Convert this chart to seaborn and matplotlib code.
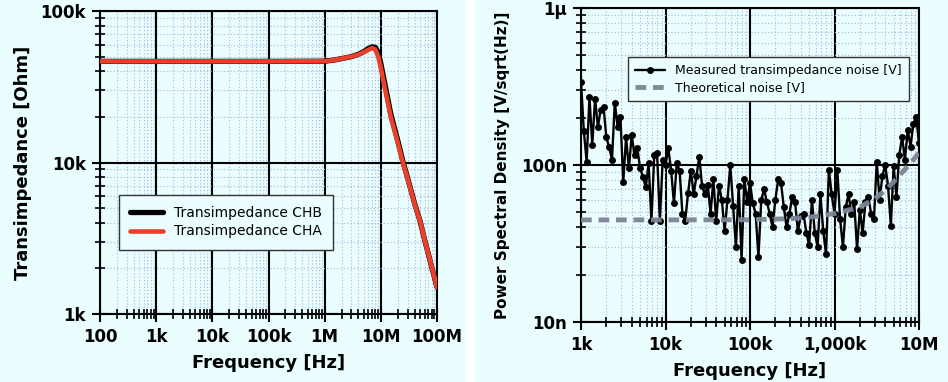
import numpy as np
import pandas as pd
import matplotlib
matplotlib.use("Agg")
import matplotlib.pyplot as plt
import seaborn as sns
from matplotlib.patches import Rectangle
from matplotlib.ticker import FixedLocator, LogLocator, NullFormatter, FixedFormatter

# ---------------- data: left panel (transimpedance, Ohm) ----------------
tz_freq = [1e2, 1e3, 1e4, 1e5, 1e6, 1.5e6, 2e6, 3e6, 4e6, 5e6, 6e6, 7e6, 8e6, 9e6,
           1e7, 1.2e7, 1.5e7, 2e7, 2.5e7, 3e7, 4e7, 5e7, 6e7, 7e7, 8e7, 9e7, 1e8]
tz_cha = [46.5e3, 46.5e3, 46.5e3, 46.5e3, 46.6e3, 47.5e3, 48.5e3, 50e3, 51.5e3, 53.5e3,
          55.5e3, 57e3, 55.5e3, 50e3, 42e3, 30e3, 20e3, 13.5e3, 9.8e3, 7.8e3, 5.3e3,
          4.1e3, 3.1e3, 2.5e3, 2.05e3, 1.75e3, 1.5e3]
tz_chb = [46.5e3, 46.5e3, 46.5e3, 46.5e3, 46.6e3, 47.5e3, 48.5e3, 50e3, 51.8e3, 54e3,
          56.5e3, 58e3, 57.5e3, 53e3, 45e3, 32e3, 21e3, 14e3, 10e3, 7.9e3, 5.35e3,
          4.1e3, 3.1e3, 2.5e3, 2.05e3, 1.75e3, 1.5e3]

# ---------------- data: right panel (noise, nV/sqrt(Hz)) ----------------
mantissa = [1.000, 1.080, 1.166, 1.259, 1.359, 1.468, 1.585, 1.711, 1.848, 1.995,
            2.154, 2.326, 2.512, 2.712, 2.929, 3.162, 3.415, 3.687, 3.981, 4.299,
            4.642, 5.012, 5.412, 5.843, 6.310, 6.813, 7.356, 7.943, 8.577, 9.261]
decades = [1e3, 1e4, 1e5, 1e6]
last_freq = 1e7

noise_dec1 = [340, 165, 105, 270, 135, 265, 175, 225, 235, 150,
              130, 108, 250, 175, 203, 78, 150, 95, 155, 115,
              128, 95, 84, 72, 103, 44, 115, 120, 44, 108]
noise_dec2 = [100, 128, 92, 57, 103, 92, 49, 44, 66, 92,
              65, 85, 113, 73, 65, 75, 49, 81, 44, 74,
              60, 38, 60, 100, 55, 30, 74, 25, 81, 58]
noise_dec3 = [77, 57, 49, 26, 60, 70, 58, 49, 40, 60,
              81, 77, 54, 40, 49, 63, 58, 38, 47, 49,
              37, 31, 60, 37, 30, 65, 38, 27, 93, 65]
noise_dec4 = [49, 93, 45, 30, 54, 65, 49, 58, 29, 52,
              37, 58, 63, 49, 45, 105, 60, 85, 100, 74,
              41, 98, 63, 116, 151, 108, 167, 131, 183, 203]
noise_last = 138

theo_freq = [1e3, 1e4, 1e5, 3e5, 5e5, 1e6, 2e6, 3e6, 4e6, 5e6, 6e6, 8e6, 1e7]
theo_nv = [44.7, 44.7, 44.8, 45.5, 46.5, 49, 54, 61, 69, 78, 87, 103, 120]

left_xticks = [1e2, 1e3, 1e4, 1e5, 1e6, 1e7, 1e8]
left_xlabels = ["100", "1k", "10k", "100k", "1M", "10M", "100M"]
left_yticks = [1e3, 1e4, 1e5]
left_ylabels = ["1k", "10k", "100k"]
right_xticks = [1e3, 1e4, 1e5, 1e6, 1e7]
right_xlabels = ["1k", "10k", "100k", "1,000k", "10M"]
right_yticks = [1e-8, 1e-7, 1e-6]
right_ylabels = ["10n", "100n", "1\u00b5"]

# ---------------- build tables ----------------
noise_freq = [m * d for d in decades for m in mantissa] + [last_freq]
noise_vals = [v * 1e-9 for v in noise_dec1 + noise_dec2 + noise_dec3 + noise_dec4 + [noise_last]]
df_noise = pd.DataFrame({"f": noise_freq, "v": noise_vals})
df_theo = pd.DataFrame({"f": theo_freq, "v": [v * 1e-9 for v in theo_nv]})
df_b = pd.DataFrame({"f": tz_freq, "z": tz_chb})
df_a = pd.DataFrame({"f": tz_freq, "z": tz_cha})

# ---------------- styling ----------------
sns.set_style("ticks")
plt.rcParams["font.family"] = ["DejaVu Sans"]
plt.rcParams.update({"text.color": "black", "axes.labelcolor": "black",
                     "xtick.color": "black", "ytick.color": "black"})
BG = "#eafeff"

W, H = 948, 382
fig = plt.figure(figsize=(W / 100, H / 100), dpi=100, facecolor="white")
fig.patches.append(Rectangle((0, 0), 466 / W, 1, transform=fig.transFigure,
                             facecolor=BG, edgecolor="none", zorder=-10))
fig.patches.append(Rectangle((475 / W, 0), 1 - 475 / W, 1, transform=fig.transFigure,
                             facecolor=BG, edgecolor="none", zorder=-10))

axL = fig.add_axes([100 / W, (H - 314) / H, 337 / W, 303 / H])
axR = fig.add_axes([581 / W, (H - 322) / H, 338 / W, 314 / H])


def style_axis(ax, xt, xl, yt, yl):
    ax.set_facecolor(BG)
    ax.set_xscale("log")
    ax.set_yscale("log")
    ax.xaxis.set_major_locator(FixedLocator(xt))
    ax.xaxis.set_major_formatter(FixedFormatter(xl))
    ax.yaxis.set_major_locator(FixedLocator(yt))
    ax.yaxis.set_major_formatter(FixedFormatter(yl))
    ax.xaxis.set_minor_locator(LogLocator(base=10, subs=np.arange(2, 10), numticks=20))
    ax.yaxis.set_minor_locator(LogLocator(base=10, subs=np.arange(2, 10), numticks=20))
    ax.xaxis.set_minor_formatter(NullFormatter())
    ax.yaxis.set_minor_formatter(NullFormatter())
    ax.set_xlim(xt[0], xt[-1])
    ax.set_ylim(yt[0], yt[-1])
    ax.grid(which="major", color="black", linewidth=1.5, linestyle="-")
    ax.grid(which="minor", color="#a7b3de", linewidth=0.8, linestyle=(0, (1, 2)))
    ax.set_axisbelow(True)
    for s in ax.spines.values():
        s.set_color("black")
        s.set_linewidth(1.5)
    ax.tick_params(which="major", direction="inout", length=12, width=1.5,
                   labelsize=12, pad=4, color="black", labelcolor="black")
    ax.tick_params(which="minor", direction="inout", length=7, width=1.2, color="black")
    for lab in ax.get_xticklabels() + ax.get_yticklabels():
        lab.set_fontweight("bold")


# ---- left panel ----
sns.lineplot(data=df_b, x="f", y="z", ax=axL, color="black", linewidth=3.8,
             label="Transimpedance CHB", zorder=3)
sns.lineplot(data=df_a, x="f", y="z", ax=axL, color="#e8402a", linewidth=3.3,
             label="Transimpedance CHA", zorder=4)
style_axis(axL, left_xticks, left_xlabels, left_yticks, left_ylabels)
axL.set_xlabel("Frequency [Hz]", fontsize=13, fontweight="bold", labelpad=6)
axL.set_ylabel("Transimpedance [Ohm]", fontsize=13, fontweight="bold", labelpad=6)
legL = axL.legend(loc="upper left", bbox_to_anchor=(0.035, 0.415), frameon=True,
                  fancybox=False, fontsize=10, handlelength=2.4, borderpad=0.8,
                  labelspacing=0.3, framealpha=1)
legL.get_frame().set_edgecolor("#333333")
legL.get_frame().set_facecolor(BG)
legL.get_frame().set_linewidth(1.0)

# ---- right panel ----
sns.lineplot(data=df_noise, x="f", y="v", ax=axR, color="black", linewidth=1.7,
             marker="o", markersize=5, markeredgewidth=0,
             label="Measured transimpedance noise [V]", zorder=3)
sns.lineplot(data=df_theo, x="f", y="v", ax=axR, color="#7d8494", linewidth=3.5,
             linestyle=(0, (2.2, 1.4)), label="Theoretical noise [V]", zorder=4, alpha=0.95)
style_axis(axR, right_xticks, right_xlabels, right_yticks, right_ylabels)
axR.set_xlabel("Frequency [Hz]", fontsize=13, fontweight="bold", labelpad=6)
axR.set_ylabel("Power Spectral Density [V/sqrt(Hz)]", fontsize=11, fontweight="bold",
               labelpad=8)
legR = axR.legend(loc="upper left", bbox_to_anchor=(0.12, 0.865), frameon=True,
                  fancybox=False, fontsize=9, handlelength=2.4, borderpad=0.6,
                  labelspacing=0.3, framealpha=1)
legR.get_frame().set_edgecolor("#333333")
legR.get_frame().set_facecolor(BG)
legR.get_frame().set_linewidth(1.0)

fig.savefig("out.png", dpi=100, facecolor=fig.get_facecolor())
